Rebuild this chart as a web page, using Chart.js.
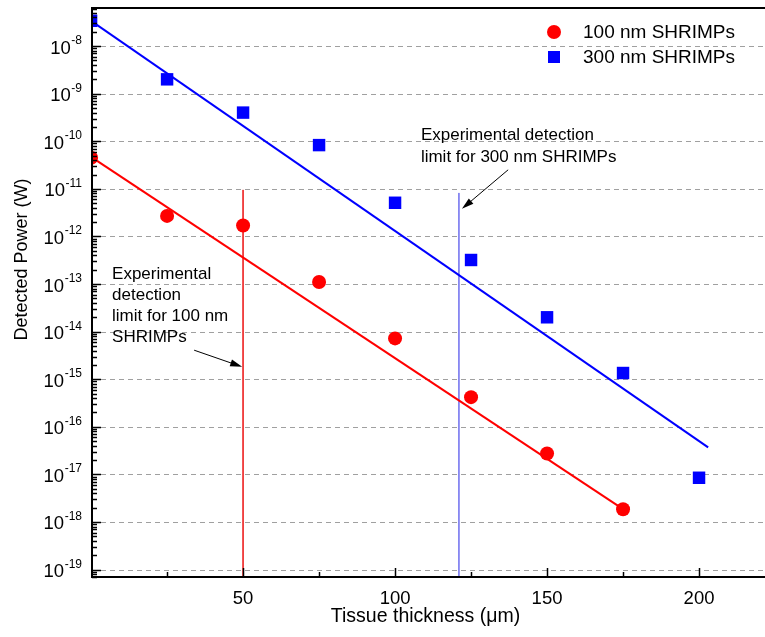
<!DOCTYPE html>
<html>
<head>
<meta charset="utf-8">
<script src="https://cdn.jsdelivr.net/npm/chart.js@4.4.0/dist/chart.umd.min.js"></script>
<style>
  html, body { margin: 0; padding: 0; background: #fff; overflow: hidden; }
  #wrap { width: 765px; height: 637px; }
</style>
</head>
<body>
<div id="wrap"><canvas id="chart" width="765" height="637"></canvas></div>
<script>
'use strict';

// ── Data ──────────────────────────────────────────────────
const thickness100 = [0, 25, 50, 75, 100, 125, 150, 175];
const power100     = [4.5e-11, 2.7e-12, 1.7e-12, 1.1e-13, 7.2e-15, 4.2e-16, 2.75e-17, 1.85e-18];

const thickness300 = [0, 25, 50, 75, 100, 125, 150, 175, 200];
const power300     = [3.4e-8, 2.0e-9, 4.0e-10, 8.3e-11, 5.1e-12, 3.2e-13, 2.0e-14, 1.35e-15, 8.5e-18];

// fitted lines (end points)
const fitX100 = [0, 175];
const fitY100 = [4.7e-11, 1.86e-18];
const fitX300 = [0, 203];
const fitY300 = [3.4e-8, 3.7e-17];

// detection limits (vertical lines)
const limitX100 = [50, 50];
const limitY100 = [9.5e-12, 6e-20];
const limitX300 = [121, 121];
const limitY300 = [8.2e-12, 6e-20];

// axes
const X_MIN = 0.3, X_MAX = 221.7;
const Y_MIN = Math.pow(10, -19.156), Y_MAX = Math.pow(10, -7.2);
const xMajorTicks = [50, 100, 150, 200];
const xMinorTicks = [25, 75, 125, 175];
const yExponents  = [-19, -18, -17, -16, -15, -14, -13, -12, -11, -10, -9, -8];

const legendLabels = ['100 nm SHRIMPs', '300 nm SHRIMPs'];

// annotations (data coordinates; y given as log10)
const note300 = { x: 108.5, logY: -9.87, lines: ['Experimental detection', 'limit for 300 nm SHRIMPs'] };
const arrow300 = { x0: 137.2, ly0: -10.60, x1: 122.0, ly1: -11.42 };
const note100 = { x: 6.9, logY: -12.80, lines: ['Experimental', 'detection', 'limit for 100 nm', 'SHRIMPs'] };
const arrow100 = { x0: 33.9, ly0: -14.39, x1: 49.7, ly1: -14.74 };

const RED  = '#ff0000';
const BLUE = '#0000ff';
const FONT = 'Arial, "Liberation Sans", sans-serif';

const pts = (xs, ys) => xs.map((x, i) => ({ x, y: ys[i] }));

// ── Helpers ───────────────────────────────────────────────
function drawArrow(ctx, x0, y0, x1, y1) {
  const ang = Math.atan2(y1 - y0, x1 - x0);
  const len = 12, half = 3.5;
  ctx.beginPath();
  ctx.moveTo(x0, y0);
  ctx.lineTo(x1 - Math.cos(ang) * len * 0.8, y1 - Math.sin(ang) * len * 0.8);
  ctx.stroke();
  const bx = x1 - Math.cos(ang) * len, by = y1 - Math.sin(ang) * len;
  ctx.beginPath();
  ctx.moveTo(x1, y1);
  ctx.lineTo(bx + Math.sin(ang) * half, by - Math.cos(ang) * half);
  ctx.lineTo(bx - Math.sin(ang) * half, by + Math.cos(ang) * half);
  ctx.closePath();
  ctx.fill();
}

// ── Custom drawing: grid, frame, ticks, labels ────────────
const decorPlugin = {
  id: 'decor',
  beforeDatasetsDraw(chart) {
    const { ctx, chartArea: a, scales: { y } } = chart;
    ctx.save();
    ctx.strokeStyle = '#a0a0a0';
    ctx.lineWidth = 1;
    ctx.setLineDash([5, 4]);
    yExponents.forEach(e => {
      const py = Math.round(y.getPixelForValue(Math.pow(10, e))) + 0.5;
      ctx.beginPath();
      ctx.moveTo(a.left, py);
      ctx.lineTo(a.right, py);
      ctx.stroke();
    });
    ctx.restore();
  },
  afterDatasetsDraw(chart) {
    const { ctx, chartArea: a, scales: { x, y } } = chart;
    ctx.save();
    ctx.strokeStyle = '#000';
    ctx.lineWidth = 2;
    ctx.beginPath();
    ctx.moveTo(a.right, a.top);
    ctx.lineTo(a.left, a.top);
    ctx.lineTo(a.left, a.bottom);
    ctx.lineTo(a.right, a.bottom);
    ctx.stroke();

    // y ticks (inside)
    ctx.lineWidth = 1.5;
    for (let e = -20; e <= -7; e++) {
      for (let m = 1; m <= 9; m++) {
        const v = m * Math.pow(10, e);
        if (v <= Y_MIN || v >= Y_MAX) continue;
        const py = Math.round(y.getPixelForValue(v)) + 0.5;
        ctx.beginPath();
        ctx.moveTo(a.left, py);
        ctx.lineTo(a.left + (m === 1 ? 9 : 5), py);
        ctx.stroke();
      }
    }
    // x ticks (inside)
    xMajorTicks.forEach(v => {
      const px = Math.round(x.getPixelForValue(v)) + 0.5;
      ctx.beginPath(); ctx.moveTo(px, a.bottom); ctx.lineTo(px, a.bottom - 9); ctx.stroke();
    });
    xMinorTicks.forEach(v => {
      const px = Math.round(x.getPixelForValue(v)) + 0.5;
      ctx.beginPath(); ctx.moveTo(px, a.bottom); ctx.lineTo(px, a.bottom - 5); ctx.stroke();
    });
    ctx.restore();
  },
  afterDraw(chart) {
    const { ctx, chartArea: a, scales: { x, y } } = chart;
    ctx.save();
    ctx.fillStyle = '#000';
    ctx.strokeStyle = '#000';

    // y tick labels 10^e
    yExponents.forEach(e => {
      const py = y.getPixelForValue(Math.pow(10, e));
      const exp = String(e);
      ctx.font = '12px ' + FONT;
      const ew = ctx.measureText(exp).width;
      const right = a.left - 10;
      ctx.textAlign = 'left';
      ctx.textBaseline = 'alphabetic';
      ctx.fillText(exp, right - ew, py - 2);
      ctx.font = '18.5px ' + FONT;
      ctx.textAlign = 'right';
      ctx.fillText('10', right - ew - 0.5, py + 7.5);
    });

    // x tick labels
    ctx.font = '18.5px ' + FONT;
    ctx.textAlign = 'center';
    ctx.textBaseline = 'alphabetic';
    xMajorTicks.forEach(v => ctx.fillText(String(v), x.getPixelForValue(v), a.bottom + 27));

    // axis titles
    ctx.font = '19.5px ' + FONT;
    ctx.fillText('Tissue thickness (\u03bcm)', (a.left + a.right) / 2 - 3, a.bottom + 45);
    ctx.save();
    ctx.translate(27, (a.top + a.bottom) / 2 - 33);
    ctx.rotate(-Math.PI / 2);
    ctx.font = '18px ' + FONT;
    ctx.fillText('Detected Power (W)', 0, 0);
    ctx.restore();

    // legend
    ctx.font = '19px ' + FONT;
    ctx.textAlign = 'left';
    ctx.textBaseline = 'middle';
    const lx = a.right - 211, ly = a.top + 24;
    ctx.fillStyle = RED;
    ctx.beginPath(); ctx.arc(lx, ly, 7, 0, Math.PI * 2); ctx.fill();
    ctx.fillStyle = BLUE;
    ctx.fillRect(lx - 6, ly + 25 - 6, 12, 12);
    ctx.fillStyle = '#000';
    ctx.fillText(legendLabels[0], lx + 29, ly + 1);
    ctx.fillText(legendLabels[1], lx + 29, ly + 26);

    // annotations
    ctx.font = '17px ' + FONT;
    ctx.textBaseline = 'middle';
    [[note300, 22], [note100, 21]].forEach(([n, lh]) => {
      const px = x.getPixelForValue(n.x);
      const py = y.getPixelForValue(Math.pow(10, n.logY));
      n.lines.forEach((t, i) => ctx.fillText(t, px, py + i * lh));
    });
    ctx.lineWidth = 1;
    [arrow300, arrow100].forEach(ar => {
      drawArrow(ctx,
        x.getPixelForValue(ar.x0), y.getPixelForValue(Math.pow(10, ar.ly0)),
        x.getPixelForValue(ar.x1), y.getPixelForValue(Math.pow(10, ar.ly1)));
    });
    ctx.restore();
  }
};

// ── Chart ─────────────────────────────────────────────────
new Chart(document.getElementById('chart'), {
  type: 'scatter',
  data: {
    datasets: [
      {
        label: legendLabels[0],
        data: pts(thickness100, power100),
        pointStyle: 'circle', pointRadius: 7,
        backgroundColor: RED, borderColor: RED, borderWidth: 0,
        showLine: false, clip: 0
      },
      {
        label: legendLabels[1],
        data: pts(thickness300, power300),
        pointStyle: 'rect', pointRadius: 8.8,
        backgroundColor: BLUE, borderColor: BLUE, borderWidth: 0,
        showLine: false, clip: 0
      },
      {
        label: 'fit 100',
        data: pts(fitX100, fitY100),
        showLine: true, borderColor: RED, borderWidth: 2, pointRadius: 0, clip: 0
      },
      {
        label: 'fit 300',
        data: pts(fitX300, fitY300),
        showLine: true, borderColor: BLUE, borderWidth: 2, pointRadius: 0, clip: 0
      },
      {
        label: 'limit 100',
        data: pts(limitX100, limitY100),
        showLine: true, borderColor: '#ee3030', borderWidth: 1, pointRadius: 0, clip: 0
      },
      {
        label: 'limit 300',
        data: pts(limitX300, limitY300),
        showLine: true, borderColor: '#8080f0', borderWidth: 1, pointRadius: 0, clip: 0
      }
    ]
  },
  options: {
    responsive: false,
    animation: false,
    devicePixelRatio: 1,
    layout: { autoPadding: false, padding: { top: 8, left: 0, right: 0, bottom: 0 } },
    plugins: { legend: { display: false }, tooltip: { enabled: false } },
    scales: {
      x: {
        type: 'linear', min: X_MIN, max: X_MAX, bounds: 'data',
        ticks: { display: false }, grid: { display: false }, border: { display: false },
        afterFit: s => { s.height = 60; }
      },
      y: {
        type: 'logarithmic', min: Y_MIN, max: Y_MAX, bounds: 'data',
        ticks: { display: false }, grid: { display: false }, border: { display: false },
        afterFit: s => { s.width = 92; }
      }
    }
  },
  plugins: [decorPlugin]
});
</script>
</body>
</html>
